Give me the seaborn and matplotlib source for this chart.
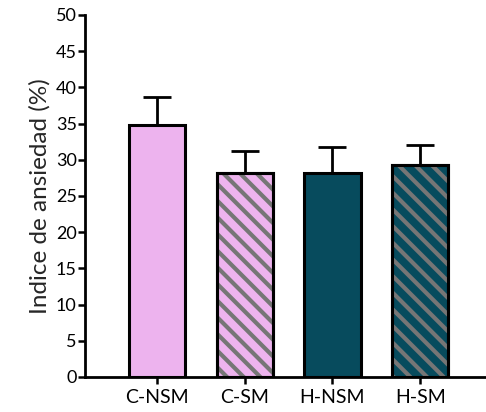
import matplotlib
matplotlib.use("Agg")
import matplotlib.pyplot as plt
from matplotlib.patches import Rectangle
import seaborn as sns
import pandas as pd
import numpy as np

categories = ["C-NSM", "C-SM", "H-NSM", "H-SM"]
means = [34.8, 28.2, 28.2, 29.3]
sems = [3.9, 3.0, 3.6, 2.8]
colors = ["#EDB3EE", "#EDB3EE", "#074B5D", "#074B5D"]
hatched = [False, True, False, True]
yticks = list(range(0, 51, 5))

sns.set_theme(style="ticks")
plt.rcParams['font.family'] = ['Lato', 'DejaVu Sans']
plt.rcParams['hatch.linewidth'] = 3.0

df = pd.DataFrame({"group": categories, "value": means})

fig = plt.figure(figsize=(4.86, 4.12), dpi=100)
ax = fig.add_axes([0.175, 0.085, 0.825, 0.8786])

sns.barplot(data=df, x="group", y="value", hue="group", palette=colors,
            order=categories, width=0.64, edgecolor="black", linewidth=2.2,
            saturation=1, legend=False, ax=ax, errorbar=None)

bars = list(ax.patches)
for p, h in zip(bars, hatched):
    p.set_edgecolor("black")
    if h:
        x0, y0 = p.get_x(), p.get_y()
        w, hh = p.get_width(), p.get_height()
        ax.add_patch(Rectangle((x0, y0), w, hh, facecolor="none",
                               edgecolor="#767676", linewidth=0,
                               hatch="\\\\", zorder=p.get_zorder() + 0.01))
        ax.add_patch(Rectangle((x0, y0), w, hh, facecolor="none",
                               edgecolor="black", linewidth=2.2,
                               zorder=p.get_zorder() + 0.02))

xs = np.arange(len(categories))
ax.errorbar(xs, means, yerr=[np.zeros(len(sems)), sems], fmt="none",
            ecolor="black", elinewidth=2.0, capsize=10, capthick=2.0, zorder=0.5)

ax.set_ylim(0, 50)
ax.set_yticks(yticks)
ax.set_xlim(-0.82, 3.75)
ax.set_xlabel("")
ax.set_ylabel("Indice de ansiedad (%)", fontsize=17.5, labelpad=4)
ax.tick_params(axis='both', width=1.8, length=5, direction='out', colors='black')
ax.tick_params(axis='y', labelsize=13, pad=1)
ax.tick_params(axis='x', labelsize=14, pad=4)
for s in ["left", "bottom"]:
    ax.spines[s].set_linewidth(2.0)
    ax.spines[s].set_color("black")
sns.despine(ax=ax)

fig.savefig("out.png", dpi=100)
